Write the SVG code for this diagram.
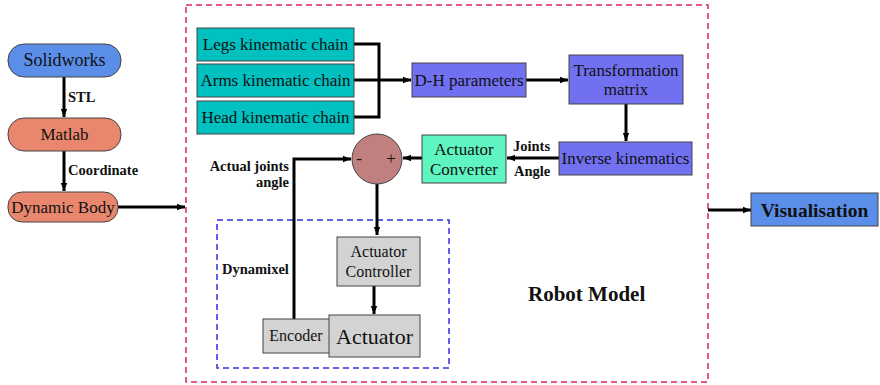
<svg xmlns="http://www.w3.org/2000/svg" width="880" height="385" viewBox="0 0 880 385" font-family="'Liberation Serif', 'DejaVu Serif', serif">
<defs>
<marker id="ah" viewBox="0 0 10 10" refX="10" refY="5" markerWidth="8" markerHeight="8" markerUnits="userSpaceOnUse" orient="auto"><path d="M0,1 L10,5 L0,9 z" fill="#000"/></marker>
<style>
text{fill:#111}
.n{font-size:17px;text-anchor:middle}
.b{font-weight:bold;font-size:14.5px}
.e{stroke:#000;stroke-width:3;fill:none}
.ea{stroke:#000;stroke-width:3;fill:none;marker-end:url(#ah)}
.box{stroke:#444;stroke-width:1}
</style>
</defs>
<rect width="880" height="385" fill="#fff"/>
<rect id="robot-frame" x="186" y="5" width="522" height="377" fill="none" stroke="#e0245a" stroke-width="1.5" stroke-dasharray="6,4"/>
<rect id="dynamixel-frame" x="217" y="220" width="232" height="148" fill="none" stroke="#3030e0" stroke-width="1.5" stroke-dasharray="6,4"/>
<g id="connectors">
<path class="ea" d="M64,77 V117"/>
<path class="ea" d="M64,151 V191"/>
<path class="ea" d="M118,207 H185"/>
<path class="e" d="M354,44 H379 V117 H354"/>
<path class="ea" d="M354,80 H411"/>
<path class="ea" d="M526,80 H568"/>
<path class="ea" d="M626,104 V141"/>
<path class="ea" d="M559,158 H507"/>
<path class="ea" d="M422,158 H403"/>
<path class="ea" d="M294,319 V159 H351"/>
<path class="ea" d="M377,184 V235"/>
<path class="ea" d="M374,286 V314"/>
<path class="ea" d="M708,210 H751"/>
</g>
<g id="solidworks"><rect class="box" x="8" y="44" width="113" height="33" rx="16" fill="#5b8ee8"/><text class="n" x="64.5" y="66" style="font-size:18px">Solidworks</text></g>
<g id="matlab"><rect class="box" x="8" y="118" width="113" height="33" rx="16" fill="#e9876e"/><text class="n" x="64.5" y="140">Matlab</text></g>
<g id="dynamic-body"><rect class="box" x="8" y="192" width="110" height="30" rx="14" fill="#e9876e"/><text class="n" x="63" y="213">Dynamic Body</text></g>
<text class="b" x="68" y="102">STL</text>
<text class="b" x="68" y="175">Coordinate</text>
<g id="legs"><rect class="box" x="197" y="28" width="157" height="33" fill="#00c0c0"/><text class="n" x="275.5" y="50">Legs kinematic chain</text></g>
<g id="arms"><rect class="box" x="197" y="64" width="157" height="33" fill="#00c0c0"/><text class="n" x="275.5" y="86">Arms kinematic chain</text></g>
<g id="head"><rect class="box" x="197" y="101" width="157" height="33" fill="#00c0c0"/><text class="n" x="275.5" y="123">Head kinematic chain</text></g>
<g id="dh"><rect class="box" x="412" y="63" width="114" height="34" fill="#7070f0"/><text class="n" x="469" y="86">D-H parameters</text></g>
<g id="transformation"><rect class="box" x="569" y="55" width="114" height="49" fill="#7070f0"/><text class="n" x="626" y="76">Transformation</text><text class="n" x="626" y="95">matrix</text></g>
<g id="inverse"><rect class="box" x="559" y="142" width="133" height="33" fill="#7070f0"/><text class="n" x="625.5" y="164">Inverse kinematics</text></g>
<text class="b" x="513" y="151">Joints</text>
<text class="b" x="514" y="176">Angle</text>
<g id="converter"><rect class="box" x="422" y="135" width="84" height="48" fill="#5ef5c0"/><text class="n" x="464" y="155">Actuator</text><text class="n" x="464" y="175">Converter</text></g>
<g id="sum"><circle cx="377" cy="159" r="25" fill="#c08080" stroke="#444" stroke-width="1"/><text class="n" x="359" y="164">-</text><text class="n" x="391" y="164">+</text></g>
<text class="b" x="289" y="171" text-anchor="end">Actual joints</text>
<text class="b" x="289" y="187" text-anchor="end">angle</text>
<text class="b" x="222" y="274">Dynamixel</text>
<g id="controller"><rect class="box" x="337" y="237" width="83" height="49" fill="#d3d3d3"/><text class="n" x="378.5" y="257" style="font-size:16px">Actuator</text><text class="n" x="378.5" y="277" style="font-size:16px">Controller</text></g>
<g id="encoder"><rect class="box" x="263" y="319" width="67" height="34" fill="#d3d3d3"/><text class="n" x="296" y="341" style="font-size:16px">Encoder</text></g>
<g id="actuator"><rect class="box" x="329" y="315" width="91" height="42" fill="#d3d3d3"/><text class="n" x="374.5" y="344" style="font-size:22px">Actuator</text></g>
<text x="528" y="301" style="font-weight:bold;font-size:21px">Robot Model</text>
<g id="visualisation"><rect class="box" x="751" y="193" width="127" height="33" fill="#5b8ee8"/><text class="n" x="814.5" y="217" style="font-weight:bold;font-size:19.5px">Visualisation</text></g>
</svg>
